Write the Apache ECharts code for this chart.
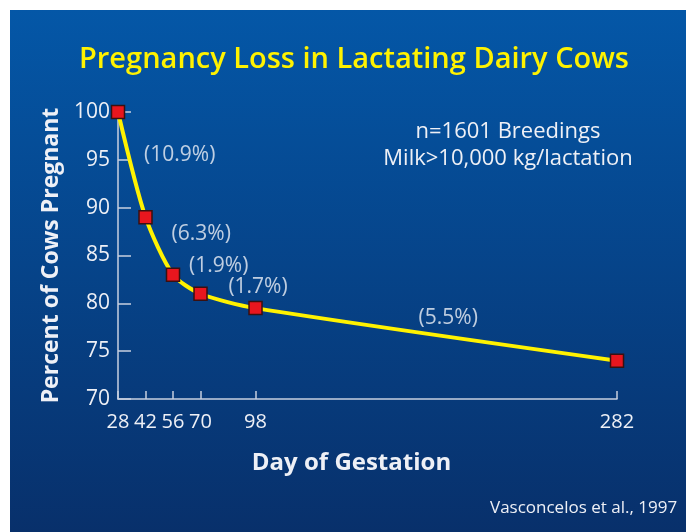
<!DOCTYPE html>
<html>
<head>
<meta charset="utf-8">
<script src="https://cdn.jsdelivr.net/npm/echarts@6/dist/echarts.min.js"></script>
<style>
  html, body { margin: 0; padding: 0; background: #ffffff; }
  #chart { position: absolute; left: 10px; top: 10px; width: 676px; height: 522px; }
</style>
</head>
<body>
<div id="chart"></div>
<script>
// data
const days = [28, 42, 56, 70, 98, 282]
const pctPregnant = [100, 89, 83, 81, 79.5, 74]
const lossLabels = ['(10.9%)', '(6.3%)', '(1.9%)', '(1.7%)', '(5.5%)']
const yTicks = [70, 75, 80, 85, 90, 95, 100]

// where each loss label sits relative to its segment midpoint (px)
const labelOffsets = [[48, -10], [42, -12], [32, -18], [30, -14], [12, -16]]

const white = '#eef0f6'
const font = 'Open Sans'

const lineData = days.map((d, i) => [d, pctPregnant[i]])
const labelData = lossLabels.map((txt, i) => ({
  value: [(days[i] + days[i + 1]) / 2, (pctPregnant[i] + pctPregnant[i + 1]) / 2],
  label: { offset: labelOffsets[i] },
  name: txt
}))

const chart = echarts.init(document.getElementById('chart'))
chart.setOption({
  backgroundColor: new echarts.graphic.LinearGradient(0, 0, 0, 1, [
    { offset: 0, color: '#0457a7' },
    { offset: 1, color: '#08306b' }
  ]),
  animation: false,
  title: {
    text: 'Pregnancy Loss in Lactating Dairy Cows',
    left: 339,
    top: 30,
    textAlign: 'center',
    textStyle: { color: '#fff200', fontFamily: font, fontSize: 29, fontWeight: 600 }
  },
  graphic: [
    {
      type: 'text',
      x: 498,
      y: 108,
      style: {
        text: 'n=1601 Breedings\nMilk>10,000 kg/lactation',
        fill: white,
        font: '22px "Open Sans"',
        align: 'center',
        lineHeight: 27
      }
    },
    {
      type: 'text',
      x: 480,
      y: 490,
      style: {
        text: 'Vasconcelos et al., 1997',
        fill: white,
        font: '17px "Open Sans"'
      }
    }
  ],
  grid: { left: 108, right: 69, top: 102, bottom: 133 },
  xAxis: {
    type: 'value',
    min: 28,
    max: 282,
    name: 'Day of Gestation',
    nameLocation: 'middle',
    nameGap: 52,
    nameTextStyle: { color: white, fontFamily: font, fontSize: 24, fontWeight: 'bold', padding: [0, 32, 0, 0] },
    axisLine: { lineStyle: { color: '#c8d0e0', width: 1.5 } },
    axisTick: { customValues: days, inside: true, length: 8, lineStyle: { color: '#c8d0e0', width: 1.5 } },
    axisLabel: { customValues: days, color: white, fontFamily: font, fontSize: 20, margin: 13 },
    splitLine: { show: false }
  },
  yAxis: {
    type: 'value',
    min: 70,
    max: 100,
    interval: 5,
    name: 'Percent of Cows Pregnant',
    nameLocation: 'middle',
    nameGap: 52,
    nameTextStyle: { color: white, fontFamily: font, fontSize: 23, fontWeight: 'bold' },
    axisLine: { show: true, lineStyle: { color: '#c8d0e0', width: 1.5 } },
    axisTick: { show: true, inside: true, length: 13, lineStyle: { color: '#c8d0e0', width: 1.5 } },
    axisLabel: { color: white, fontFamily: font, fontSize: 21, margin: 8,
      formatter: v => yTicks.includes(v) ? String(v) : '' },
    splitLine: { show: false }
  },
  series: [
    {
      type: 'line',
      data: lineData,
      smooth: 0.25,
      lineStyle: { color: '#fff200', width: 4 },
      symbol: 'rect',
      symbolSize: 13,
      itemStyle: { color: '#e8161e', borderColor: '#3a1010', borderWidth: 1.5 },
      z: 3
    },
    {
      type: 'scatter',
      data: labelData,
      symbolSize: 0,
      silent: true,
      label: {
        show: true,
        position: 'inside',
        formatter: p => p.name,
        color: white,
        fontFamily: font,
        fontSize: 21
      }
    }
  ]
})
</script>
</body>
</html>
